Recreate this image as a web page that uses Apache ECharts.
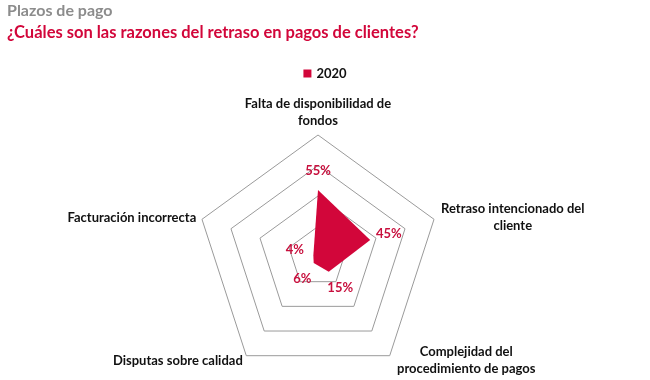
<!DOCTYPE html>
<html>
<head>
<meta charset="utf-8">
<script src="https://cdn.jsdelivr.net/npm/echarts@6/dist/echarts.min.js"></script>
<style>
html,body{margin:0;padding:0;background:#fff;}
#chart{width:650px;height:380px;}
</style>
</head>
<body>
<div id="chart"></div>
<script>
var indicators = [
  'Falta de disponibilidad de\nfondos',
  'Facturación incorrecta',
  'Disputas sobre calidad',
  'Complejidad del\nprocedimiento de pagos',
  'Retraso intencionado del\ncliente'
];
var values2020 = [55, 4, 6, 15, 45];
var seriesName = '2020';
var maxValue = 100;

var FONT = 'Lato, "Liberation Sans", sans-serif';
var RED = '#d2063a';
var LABEL_OFFSET = 16;

var chart = echarts.init(document.getElementById('chart'));
chart.setOption({
  animation: false,
  title: {
    text: 'Plazos de pago',
    subtext: '¿Cuáles son las razones del retraso en pagos de clientes?',
    left: 2, top: -2, itemGap: 5,
    textStyle: {fontFamily: FONT, fontSize: 16, fontWeight: 'bold', color: '#8c8c8c'},
    subtextStyle: {fontFamily: FONT, fontSize: 16.5, fontWeight: 'bold', color: RED}
  },
  legend: {
    data: [seriesName],
    top: 62, left: 'center',
    icon: 'rect', itemWidth: 8, itemHeight: 8, itemGap: 6,
    textStyle: {fontFamily: FONT, fontSize: 13, fontWeight: 'bold', color: '#111'}
  },
  radar: {
    center: [318, 257],
    radius: 122,
    startAngle: 90,
    splitNumber: 4,
    shape: 'polygon',
    indicator: indicators.map(function (n) { return {name: n, min: 0, max: maxValue}; }),
    axisName: {
      fontFamily: FONT, fontSize: 13, fontWeight: 'bold', color: '#111',
      formatter: function (name) {
        if (name.indexOf('\n') >= 0) {
          return name.split('\n').map(function (l) { return '{m|' + l + '}'; }).join('\n');
        }
        return '{s|' + name + '}';
      },
      rich: {
        m: {width: 146, align: 'center', fontFamily: FONT, fontSize: 13, fontWeight: 'bold', color: '#111', lineHeight: 17},
        s: {fontFamily: FONT, fontSize: 13, fontWeight: 'bold', color: '#111'}
      }
    },
    nameGap: 6,
    axisLine: {show: false},
    axisTick: {show: false},
    axisLabel: {show: false},
    splitArea: {show: false},
    splitLine: {lineStyle: {color: '#9a9a9a', width: 1}}
  },
  series: [
    {
      name: seriesName,
      type: 'radar',
      symbol: 'none',
      lineStyle: {width: 0, color: RED},
      itemStyle: {color: RED},
      areaStyle: {color: RED, opacity: 1},
      data: [{value: values2020, name: seriesName}]
    },
    {
      name: 'labels',
      type: 'radar',
      symbol: 'circle',
      symbolSize: 1,
      lineStyle: {width: 0, opacity: 0},
      itemStyle: {color: 'rgba(0,0,0,0)'},
      label: {
        show: true, position: 'inside',
        fontFamily: FONT, fontSize: 13, fontWeight: 'bold', color: '#c8103e',
        formatter: function (p) { return (p.value - LABEL_OFFSET) + '%'; }
      },
      data: [{value: values2020.map(function (v) { return v + LABEL_OFFSET; }), name: 'labels'}]
    }
  ]
});
</script>
</body>
</html>
